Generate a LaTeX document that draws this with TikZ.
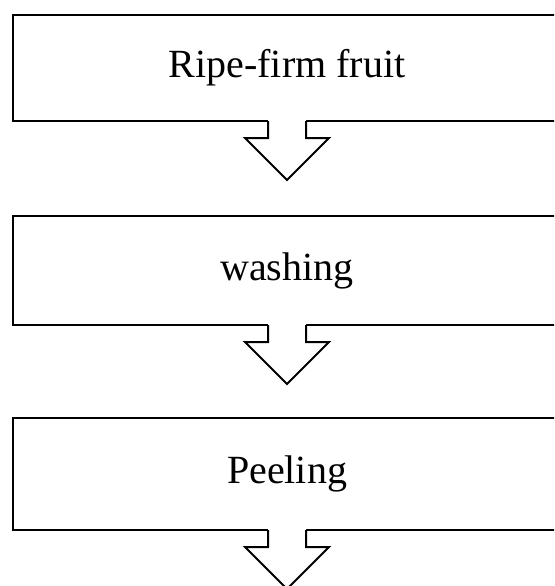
\documentclass[tikz,border=0pt]{standalone}
\usepackage{fontspec}
\setmainfont{Liberation Serif}
\newcommand\flowarrow[1]{%
  \fill[white] ([xshift=-19pt,yshift=2pt]#1.south) -- ++(0,19) -- ++(-23,0) -- ++(42,42) -- ++(42,-42) -- ++(-23,0) -- ++(0,-19) -- cycle;
  \draw[blockarrow] ([xshift=-19pt]#1.south) -- ++(0,17) -- ++(-23,0) -- ++(42,42) -- ++(42,-42) -- ++(-23,0) -- ++(0,-17);
}
\begin{document}
\begin{tikzpicture}[x=1pt,y=-1pt,
  stage/.style={draw, line width=2pt, minimum width=548pt, inner sep=0pt, outer sep=0pt,
    font=\fontsize{40}{48}\selectfont},
  blockarrow/.style={line width=2pt, line join=miter}]
\useasboundingbox (0,0) rectangle (554,586);
\clip (0,0) rectangle (554,586);
\node[stage, minimum height=106pt] (box1) at (287,68) {Ripe-firm fruit};
\node[stage, minimum height=109pt] (box2) at (287,270.5) {washing};
\node[stage, minimum height=112pt] (box3) at (287,474) {Peeling};
\flowarrow{box1}
\flowarrow{box2}
\flowarrow{box3}
\end{tikzpicture}
\end{document}
